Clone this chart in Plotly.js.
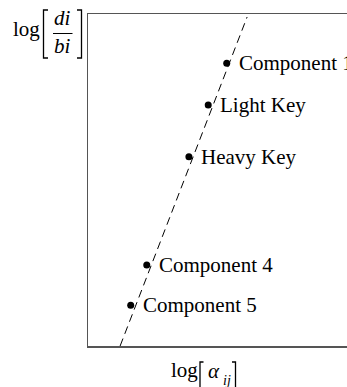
<!DOCTYPE html>
<html>
<head>
<meta charset="utf-8">
<script src="https://cdn.plot.ly/plotly-3.0.1.min.js"></script>
<style>
html,body{margin:0;padding:0;overflow:hidden;background:#fff;}
#chart{width:360px;height:387px;}
</style>
</head>
<body>
<div id="chart"></div>
<script>
// Data (arbitrary log units)
const componentNames = ['Component 1', 'Light Key', 'Heavy Key', 'Component 4', 'Component 5'];
const logAlpha = [5.10, 4.42, 3.71, 2.16, 1.57];
const logDB = [8.52, 7.26, 5.70, 2.44, 1.23];
const fitLineX = [1.18, 5.85];
const fitLineY = [0, 9.91];

const W = 360, H = 387;
const M = {l: 88, r: 0, t: 14, b: 41};
const PW = W - M.l - M.r, PH = H - M.t - M.b;
const px = v => (v - M.l) / PW;
const py = v => (H - M.b - v) / PH;
const FONT = 'Liberation Serif, Times New Roman, serif';

const traces = [
  {
    x: fitLineX, y: fitLineY, mode: 'lines', type: 'scatter',
    line: {color: '#000', width: 1, dash: '8px,5px'},
    hoverinfo: 'skip', showlegend: false
  },
  {
    x: logAlpha, y: logDB, mode: 'markers', type: 'scatter',
    marker: {color: '#000', size: 7},
    showlegend: false
  }
];

const annotations = componentNames.map((n, i) => ({
  x: logAlpha[i], y: logDB[i], xref: 'x', yref: 'y',
  text: n, showarrow: false, xanchor: 'left', yanchor: 'middle',
  xshift: 10, yshift: 0,
  font: {family: FONT, size: 21, color: '#000'}
}));

function txt(t, x, y, size, xa) {
  return {text: t, x: px(x), y: py(y), xref: 'paper', yref: 'paper',
    showarrow: false, xanchor: xa || 'center', yanchor: 'middle',
    font: {family: FONT, size: size, color: '#000'}};
}
annotations.push(txt('log', 26.5, 29, 21));
annotations.push(txt('<i>di</i>', 62.5, 18.5, 21));
annotations.push(txt('<i>bi</i>', 62, 46, 21));
annotations.push(txt('log', 184, 370, 21));
annotations.push(txt('<i>\u03b1</i>', 213.5, 370.5, 21));
annotations.push(txt('<i>ij</i>', 227, 380, 14));

function path(pts) {
  return 'M ' + pts.map(p => px(p[0]) + ',' + py(p[1])).join(' L ');
}
const bl = {color: '#000', width: 1.3};
const shapes = [
  {type: 'path', xref: 'paper', yref: 'paper', path: path([[48, 10], [43.5, 10], [43.5, 58], [48, 58]]), line: bl},
  {type: 'path', xref: 'paper', yref: 'paper', path: path([[77, 10], [81.5, 10], [81.5, 58], [77, 58]]), line: bl},
  {type: 'line', xref: 'paper', yref: 'paper', x0: px(53), x1: px(72.5), y0: py(33.5), y1: py(33.5), line: {color: '#000', width: 1}},
  {type: 'path', xref: 'paper', yref: 'paper', path: path([[203.5, 362], [200, 362], [200, 395]]), line: bl},
  {type: 'path', xref: 'paper', yref: 'paper', path: path([[232, 362], [235.5, 362], [235.5, 395]]), line: bl}
];

const axis = {
  range: [0, 10], showgrid: false, zeroline: false, showticklabels: false,
  ticks: '', showline: true, mirror: true, linecolor: '#555', linewidth: 1.5,
  fixedrange: true
};

const layout = {
  width: W, height: H,
  margin: M,
  paper_bgcolor: '#fff', plot_bgcolor: '#fff',
  xaxis: Object.assign({}, axis),
  yaxis: Object.assign({}, axis),
  annotations: annotations,
  shapes: shapes,
  showlegend: false
};

Plotly.newPlot('chart', traces, layout, {displayModeBar: false, staticPlot: true});
</script>
</body>
</html>
